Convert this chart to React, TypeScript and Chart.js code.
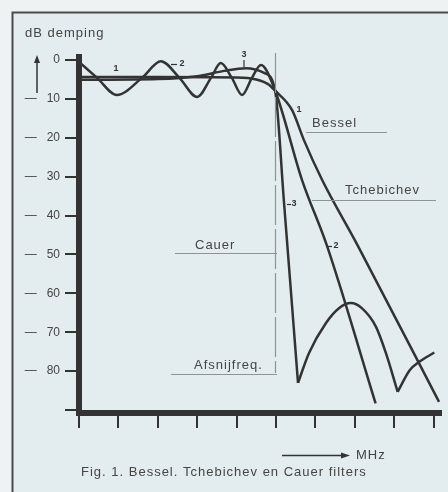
import React, { useEffect, useRef } from 'react';
import { Chart, registerables } from 'chart.js';

Chart.register(...registerables);

// ---- axis ticks ----
const yTicks = [0, 10, 20, 30, 40, 50, 60, 70, 80, 90];
const yTickLabels = ['0', '—   10', '—   20', '—   30', '—   40', '—   50', '—   60', '—   70', '—   80', ''];
const xTicks = [0, 1, 2, 3, 4, 5, 6, 7, 8, 9];
const cutoffFreq = 4.97;

// ---- curve 1: Bessel ----
const besselFreq = [0, 2, 4, 4.5, 4.8, 4.98, 5.41, 5.71, 6.17, 7.08, 9.14];
const besselDb = [4.4, 4.4, 4.5, 5.0, 6.2, 7.9, 12.9, 20.6, 30.8, 47.8, 87.9];

// ---- curve 2: Tchebichev ----
const tchebFreq = [0, 0.46, 0.96, 1.6, 2.08, 2.55, 3.0, 3.35, 3.6, 3.88, 4.14, 4.39, 4.62, 4.98, 5.66, 6.29, 7.53];
const tchebDb = [0.5, 4.6, 9.0, 4.6, 0.3, 4.6, 9.5, 4.6, 0.8, 4.6, 9.0, 4.6, 1.3, 7.9, 30.8, 47.6, 88.3];

// ---- curve 3: Cauer (passband + descent, then two stopband lobes) ----
const cauerFreq = [0, 2.0, 3.05, 3.68, 4.24, 4.7, 4.98, 5.2, 5.56];
const cauerDb = [5.1, 4.9, 4.1, 2.8, 2.1, 3.3, 7.9, 36.0, 83.0];
const cauerLobe1Freq = [5.56, 5.84, 6.27, 6.6, 6.9, 7.18, 7.54, 7.79, 8.09];
const cauerLobe1Db = [83.0, 75.3, 67.6, 63.8, 62.5, 63.8, 68.6, 75.3, 85.3];
const cauerLobe2Freq = [8.09, 8.4, 8.64, 9.02];
const cauerLobe2Db = [85.3, 79.7, 77.6, 75.2];

const INK = '#333333';
const TEXT = '#454545';
const FAINT = '#8c9596';
const FONT = '"Liberation Sans", Arial, Helvetica, sans-serif';

export default function App() {
  const ref = useRef<HTMLCanvasElement>(null);

  useEffect(() => {
    const canvas = ref.current;
    if (!canvas) return;

    const pts = (xs: number[], ys: number[]) => xs.map((x, i) => ({ x, y: ys[i] }));
    const curve = (label: string, xs: number[], ys: number[]) => ({
      label,
      data: pts(xs, ys),
      borderColor: INK,
      borderWidth: 2.5,
      pointRadius: 0,
      fill: false,
      cubicInterpolationMode: 'monotone' as const,
    });

    const decor = {
      id: 'decor',
      beforeDraw(chart: any) {
        const ctx = chart.ctx as CanvasRenderingContext2D;
        ctx.save();
        ctx.fillStyle = '#eef2f2';
        ctx.fillRect(0, 0, 448, 492);
        ctx.fillStyle = '#e3ecee';
        ctx.fillRect(12, 12, 448, 492);
        ctx.strokeStyle = '#4a4a4a';
        ctx.lineWidth = 2;
        ctx.beginPath();
        ctx.moveTo(12.5, 492);
        ctx.lineTo(12.5, 12.5);
        ctx.lineTo(448, 12.5);
        ctx.stroke();
        ctx.restore();
      },
      afterDatasetsDraw(chart: any) {
        const ctx = chart.ctx as CanvasRenderingContext2D;
        const xs = chart.scales.x;
        ctx.save();
        // cutoff frequency line
        const cx = Math.round(xs.getPixelForValue(cutoffFreq)) + 0.5;
        ctx.strokeStyle = FAINT;
        ctx.lineWidth = 1.2;
        ctx.setLineDash([40, 4]);
        ctx.beginPath();
        ctx.moveTo(cx, 53);
        ctx.lineTo(cx, 373);
        ctx.stroke();
        ctx.setLineDash([]);
        // label underlines
        const under = (x1: number, x2: number, y: number) => {
          ctx.beginPath();
          ctx.moveTo(x1, y + 0.5);
          ctx.lineTo(x2, y + 0.5);
          ctx.stroke();
        };
        under(306, 387, 132);
        under(312, 436, 200);
        under(175, 277, 253);
        under(171, 277, 374);
        ctx.restore();
      },
      afterDraw(chart: any) {
        const ctx = chart.ctx as CanvasRenderingContext2D;
        ctx.save();
        ctx.fillStyle = TEXT;
        ctx.textBaseline = 'alphabetic';
        ctx.textAlign = 'left';
        (ctx as any).letterSpacing = '1px';
        ctx.font = `13px ${FONT}`;
        ctx.fillText('dB demping', 25, 37);
        ctx.fillText('Bessel', 312, 127);
        ctx.fillText('Tchebichev', 345, 194);
        ctx.fillText('Cauer', 195, 249);
        ctx.fillText('Afsnijfreq.', 194, 369);
        ctx.fillText('MHz', 356, 459);
        ctx.fillText('Fig. 1. Bessel. Tchebichev en Cauer filters', 81, 476);
        (ctx as any).letterSpacing = '0px';

        // curve numbers
        ctx.font = `bold 9px ${FONT}`;
        ctx.textAlign = 'center';
        ctx.textBaseline = 'middle';
        ctx.fillStyle = INK;
        ctx.fillText('1', 116, 69);
        ctx.fillText('2', 182, 64);
        ctx.fillText('3', 244, 55);
        ctx.fillText('1', 299, 110);
        ctx.fillText('3', 294, 204);
        ctx.fillText('2', 336, 246);
        ctx.strokeStyle = INK;
        ctx.lineWidth = 1.2;
        const seg = (x1: number, y1: number, x2: number, y2: number) => {
          ctx.beginPath();
          ctx.moveTo(x1, y1);
          ctx.lineTo(x2, y2);
          ctx.stroke();
        };
        seg(171, 64.5, 177, 64.5);
        seg(244, 60, 244, 67);
        seg(287, 204.5, 291, 204.5);
        seg(328, 246.5, 332, 246.5);

        // up arrow next to y axis
        ctx.lineWidth = 1.5;
        seg(37, 93, 37, 62);
        ctx.beginPath();
        ctx.moveTo(37, 55);
        ctx.lineTo(34, 63);
        ctx.lineTo(40, 63);
        ctx.closePath();
        ctx.fill();

        // MHz arrow
        ctx.lineWidth = 1.3;
        seg(282, 455.5, 342, 455.5);
        ctx.beginPath();
        ctx.moveTo(350, 455.5);
        ctx.lineTo(341, 452.5);
        ctx.lineTo(341, 458.5);
        ctx.closePath();
        ctx.fill();
        ctx.restore();
      },
    };

    const chart = new Chart(canvas, {
      type: 'line',
      data: {
        datasets: [
          curve('Bessel', besselFreq, besselDb),
          curve('Tchebichev', tchebFreq, tchebDb),
          curve('Cauer', cauerFreq, cauerDb),
          curve('Cauer lobe 1', cauerLobe1Freq, cauerLobe1Db),
          curve('Cauer lobe 2', cauerLobe2Freq, cauerLobe2Db),
        ],
      },
      options: {
        responsive: false,
        animation: false,
        devicePixelRatio: 1,
        layout: { padding: { left: 0, top: 57, right: 7, bottom: 49 } },
        plugins: { legend: { display: false }, tooltip: { enabled: false } },
        scales: {
          x: {
            type: 'linear',
            min: 0,
            max: 9.19,
            afterBuildTicks: (s: any) => {
              s.ticks = xTicks.map((v) => ({ value: v }));
            },
            afterFit: (s: any) => {
              s.height = 30;
            },
            ticks: { autoSkip: false, callback: () => '' },
            grid: { drawOnChartArea: false, tickLength: 15, lineWidth: 2, color: INK },
            border: { width: 6, color: INK },
          },
          y: {
            type: 'linear',
            reverse: true,
            min: -0.77,
            max: 90.75,
            afterBuildTicks: (s: any) => {
              s.ticks = yTicks.map((v) => ({ value: v }));
            },
            afterFit: (s: any) => {
              s.width = 79;
            },
            ticks: {
              autoSkip: false,
              padding: 5,
              color: TEXT,
              font: { family: FONT, size: 12 },
              callback: (v: any) => {
                const i = yTicks.indexOf(Number(v));
                return i >= 0 ? yTickLabels[i] : '';
              },
            },
            grid: { drawOnChartArea: false, tickLength: 14, lineWidth: 2, color: INK },
            border: { width: 6, color: INK },
          },
        },
      } as any,
      plugins: [decor],
    });

    return () => chart.destroy();
  }, []);

  return (
    <div style={{ position: 'absolute', left: 0, top: 0, width: 448, height: 492 }}>
      <canvas ref={ref} width={448} height={492} style={{ display: 'block', width: 448, height: 492 }} />
    </div>
  );
}
